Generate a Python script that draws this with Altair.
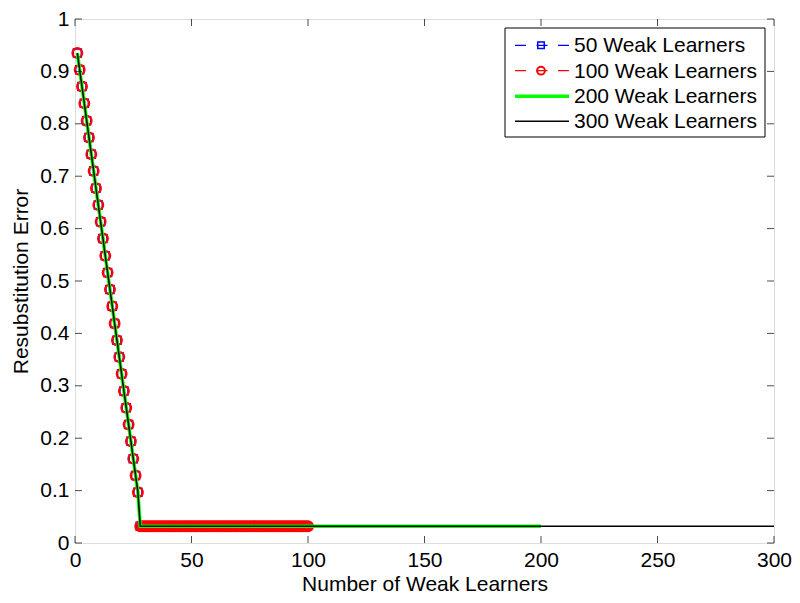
import altair as alt
import pandas as pd

# ---- data ----
series_names = ["50 Weak Learners", "100 Weak Learners", "200 Weak Learners", "300 Weak Learners"]
series_lengths = [50, 100, 200, 300]
series_colors = ["#0000ff", "#ff0000", "#00ff00", "#000000"]
# resubstitution error for learners 1..28 (identical for all four runs)
descent = [0.935, 0.903, 0.871, 0.839, 0.806, 0.774, 0.742, 0.710, 0.677, 0.645,
           0.613, 0.581, 0.548, 0.516, 0.484, 0.452, 0.419, 0.387, 0.355, 0.323,
           0.290, 0.258, 0.226, 0.194, 0.161, 0.129, 0.097, 0.032]
plateau = 0.032  # error stays here after learner 28
x_ticks = [0, 50, 100, 150, 200, 250, 300]
y_ticks = [0, 0.1, 0.2, 0.3, 0.4, 0.5, 0.6, 0.7, 0.8, 0.9, 1]

rows = []
for name, n in zip(series_names, series_lengths):
    for i in range(1, n + 1):
        rows.append({"series": name, "x": i,
                     "y": descent[i - 1] if i <= len(descent) else plateau})
df = pd.DataFrame(rows)

FONT = "Liberation Sans"
FS = 21
W, H = 699, 524

xs = alt.Scale(domain=[0, 300], nice=False)
ys = alt.Scale(domain=[0, 1], nice=False)

xaxis = alt.Axis(values=x_ticks, format="d", ticks=False, domain=False, grid=False,
                 labelPadding=23, labelBaseline="alphabetic", labelFontSize=FS,
                 labelColor="black", title="Number of Weak Learners", titleFontSize=FS,
                 titleFontWeight="normal", titleColor="black", titleBaseline="alphabetic",
                 titleY=47, labelFlush=False)
yaxis = alt.Axis(values=y_ticks, format="~g", ticks=False, domain=False, grid=False,
                 labelPadding=6, labelFontSize=FS, labelColor="black",
                 title="Resubstitution Error", titleFontSize=FS, titleFontWeight="normal",
                 titleColor="black", titleBaseline="alphabetic", titleX=-48, titleY=262,
                 titleAngle=-90, labelFlush=False)

base = alt.Chart(df)

def sel(name):
    return base.transform_filter(alt.datum.series == name)

SQ_SIZE, CI_SIZE = 64, 95
DASH = [11, 6]

layers = []
# 50 learners: blue dashed with squares
layers.append(sel(series_names[0]).mark_line(color=series_colors[0], strokeWidth=1.3,
              strokeDash=DASH).encode(x=alt.X("x:Q", scale=xs, axis=xaxis),
                                      y=alt.Y("y:Q", scale=ys, axis=yaxis)))
layers.append(sel(series_names[0]).mark_point(shape="square", color=series_colors[0],
              filled=False, size=SQ_SIZE, strokeWidth=1.5, opacity=1)
              .encode(x=alt.X("x:Q", scale=xs), y=alt.Y("y:Q", scale=ys)))
# 100 learners: red dashed with circles
layers.append(sel(series_names[1]).mark_line(color=series_colors[1], strokeWidth=1.3,
              strokeDash=DASH).encode(x=alt.X("x:Q", scale=xs), y=alt.Y("y:Q", scale=ys)))
layers.append(sel(series_names[1]).mark_point(shape="circle", color=series_colors[1],
              filled=False, size=CI_SIZE, strokeWidth=2.2, opacity=1)
              .encode(x=alt.X("x:Q", scale=xs), y=alt.Y("y:Q", scale=ys)))
# 200 learners: thick green
layers.append(sel(series_names[2]).mark_line(color=series_colors[2], strokeWidth=3.5)
              .encode(x=alt.X("x:Q", scale=xs), y=alt.Y("y:Q", scale=ys)))
# 300 learners: thin black
layers.append(sel(series_names[3]).mark_line(color=series_colors[3], strokeWidth=1.5)
              .encode(x=alt.X("x:Q", scale=xs), y=alt.Y("y:Q", scale=ys)))

# inward tick marks on all four sides
xt = alt.Chart(pd.DataFrame({"t": x_ticks}))
yt = alt.Chart(pd.DataFrame({"t": y_ticks}))
layers.append(xt.mark_tick(orient="vertical", color="black", size=7, thickness=1, yOffset=-3.5)
              .encode(x=alt.X("t:Q", scale=xs), y=alt.datum(0, scale=ys)))
layers.append(xt.mark_tick(orient="vertical", color="black", size=7, thickness=1, yOffset=3.5)
              .encode(x=alt.X("t:Q", scale=xs), y=alt.datum(1, scale=ys)))
layers.append(yt.mark_tick(orient="horizontal", color="black", size=7, thickness=1, xOffset=3.5)
              .encode(y=alt.Y("t:Q", scale=ys), x=alt.datum(0, scale=xs)))
layers.append(yt.mark_tick(orient="horizontal", color="black", size=7, thickness=1, xOffset=-3.5)
              .encode(y=alt.Y("t:Q", scale=ys), x=alt.datum(300, scale=xs)))

# legend box
one = alt.Chart(pd.DataFrame({"a": [0]}))
LX = 430
layers.append(one.mark_rect(fill="white", stroke="black", strokeWidth=1)
              .encode(x=alt.value(LX), x2=alt.value(LX + 260), y=alt.value(9), y2=alt.value(118)))
row_y = [26.3, 51.7, 77.3, 102.3]
dashes = [[11, 10.5], [11, 10.5], None, None]
widths = [1.3, 1.3, 3.5, 1.5]
shapes = ["square", "circle", None, None]
msizes = [42, 60, None, None]
for i, name in enumerate(series_names):
    kw = dict(color=series_colors[i], strokeWidth=widths[i])
    if dashes[i]:
        kw["strokeDash"] = dashes[i]
    layers.append(one.mark_rule(**kw).encode(x=alt.value(LX + 10), x2=alt.value(LX + 64),
                                             y=alt.value(row_y[i])))
    if shapes[i]:
        layers.append(one.mark_point(shape=shapes[i], color=series_colors[i], filled=False,
                                     size=msizes[i], strokeWidth=2 if i == 1 else 1.5, opacity=1)
                      .encode(x=alt.value(LX + 36), y=alt.value(row_y[i])))
    layers.append(one.mark_text(align="left", baseline="middle", fontSize=FS, font=FONT,
                                color="black")
                  .encode(x=alt.value(LX + 69), y=alt.value(row_y[i] + 1), text=alt.value(name)))

chart = alt.layer(*layers).properties(
    width=W, height=H,
    autosize=alt.AutoSizeParams(type="none"),
    padding={"left": 67, "top": 11, "right": 18, "bottom": 52},
    background="white",
).configure_view(stroke="black", strokeWidth=1).configure(font=FONT)

chart.save("out.html", embed_options={"renderer": "svg", "actions": False})
